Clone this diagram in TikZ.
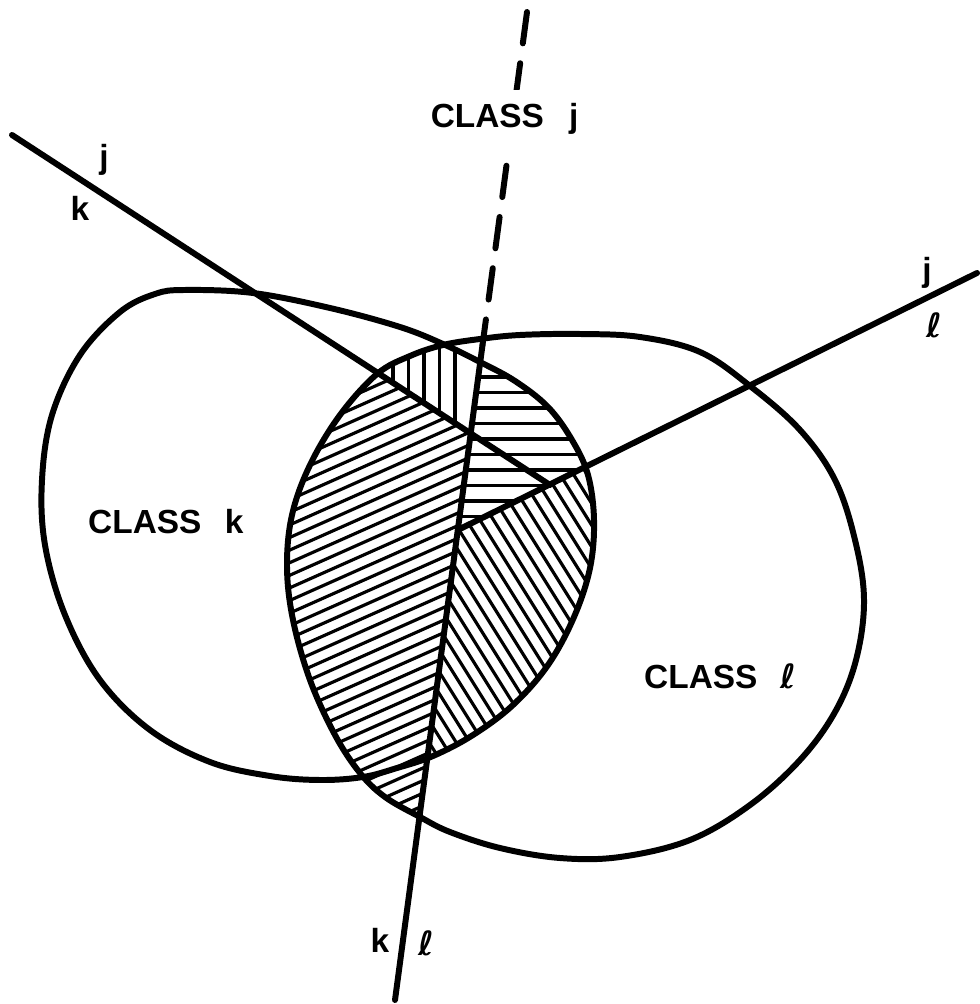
\documentclass[tikz,border=0pt]{standalone}
\usepackage{fontspec}
\setmainfont{Liberation Sans}
\newfontfamily\ellfont{DejaVu Sans}
\newcommand{\lell}{{\ellfont\bfseries ℓ}}
\begin{document}
\begin{tikzpicture}[x=0.01cm, y=-0.01cm, line cap=round, line join=round,
  curve/.style={line width=1.7pt},
  hatch/.style={line width=0.9pt},
  dashline/.style={line width=1.7pt, dash pattern=on 9pt off 5.7pt},
  lbl/.style={font=\fontsize{9.5}{11}\selectfont\bfseries, inner sep=1pt}]
  \useasboundingbox (0,0) rectangle (980,1004);

  % Boundaries of class k and class l
  \def\classk{plot[smooth cycle, tension=0.6] coordinates {
    (185,290) (253,293) (330,308) (400,327) (443,344) (480,362) (515,381)
    (548,407) (572,440) (588,475) (594,520) (590,568) (574,617) (548,665)
    (513,705) (473,735) (433,756) (397,768) (363,777) (320,780) (270,776)
    (210,762) (150,730) (100,680) (65,615) (45,545) (42,480) (52,415)
    (80,355) (120,312) (155,294)}}
  \def\classl{plot[smooth cycle, tension=0.6] coordinates {
    (443,345) (480,339) (520,335) (580,334) (640,337) (700,352) (750,386)
    (800,430) (835,480) (855,540) (864,600) (856,660) (835,712) (800,760)
    (750,805) (690,840) (620,857) (560,858) (500,848) (450,832) (420,817)
    (385,797) (360,773) (335,735) (310,680) (293,620) (287,567) (292,515)
    (310,465) (340,415) (377,374) (410,356)}}

  % End points of the three decision lines and where they cross
  \coordinate (jkend) at (12,135);
  \coordinate (jlend) at (977,273);
  \coordinate (klbot) at (395,1000);
  \coordinate (kltop) at (527,12);
  \coordinate (P1) at (470.7,433);   % jk meets kl
  \coordinate (P2) at (550,485);     % jk meets jl
  \coordinate (P3) at (457.8,530);   % jl meets kl
  \coordinate (klcut) at (482.5,345);

  % Vertical hatching
  \begin{scope}
    \clip \classk;
    \clip \classl;
    \clip (jkend) -- (P1) -- (kltop) -- (0,0) -- cycle;
    \foreach \x in {362,377.5,...,462} \draw[hatch] (\x,300) -- (\x,460);
  \end{scope}
  % Horizontal hatching
  \begin{scope}
    \clip \classk;
    \clip \classl;
    \clip (P3) -- (jlend) -- (980,0) -- (kltop) -- cycle;
    \foreach \y in {346,361.5,...,540} \draw[hatch] (440,\y) -- (620,\y);
  \end{scope}
  % Rising hatching
  \begin{scope}
    \clip \classl;
    \clip (jkend) -- (P1) -- (klbot) -- (0,1004) -- cycle;
    \foreach \h in {490,502.6,...,1050} \draw[hatch] (260,\h-115.7) -- (500,\h-222.5);
  \end{scope}
  % Falling hatching
  \begin{scope}
    \clip \classk;
    \clip (P3) -- (jlend) -- (980,1004) -- (klbot) -- cycle;
    \foreach \h in {-530,-508.3,...,120} \draw[hatch] ({(420-\h)/1.6},420) -- ({(800-\h)/1.6},800);
  \end{scope}

  % Class outlines
  \draw[curve] \classk;
  \draw[curve] \classl;

  % Decision lines
  \draw[curve] (jkend) -- (P2);
  \draw[curve] (jlend) -- (P3);
  \draw[curve] (klbot) -- (klcut);
  \draw[dashline] (kltop) -- (klcut);

  % Labels
  \node[lbl, fill=white, inner sep=4pt, anchor=base west] (lblj) at (416,128) {CLASS\hspace{0.75em}j};
  \node[lbl, anchor=base west] (lblk) at (84,534) {CLASS\hspace{0.7em}k};
  \node[lbl, anchor=base west] (lbll) at (640,688) {CLASS\hspace{0.7em}\lell};
  \node[lbl] (jkj) at (104,160) {j};
  \node[lbl] (jkk) at (80,208) {k};
  \node[lbl] (jlj) at (927,273) {j};
  \node[lbl] (jll) at (934,325) {\lell};
  \node[lbl] (klk) at (380,940) {k};
  \node[lbl] (kll) at (426,943) {\lell};
\end{tikzpicture}
\end{document}
